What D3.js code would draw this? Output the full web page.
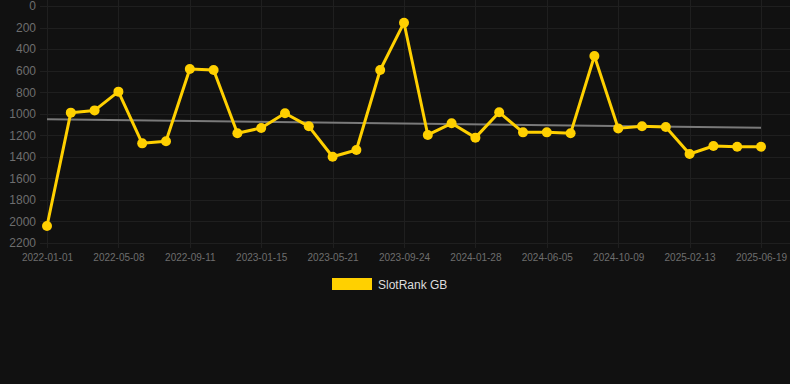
<!DOCTYPE html>
<html lang="en">
<head>
  <meta charset="UTF-8">
  <title>SlotRank GB</title>
  <script src="https://d3js.org/d3.v7.min.js"></script>
  <style>
    html, body {
      margin: 0;
      padding: 0;
      background-color: #111111;
    }

    svg {
      display: block;
      font-family: 'Liberation Sans', Arial, sans-serif;
    }

    .grid line {
      stroke: #1f1f1f;
      stroke-width: 1;
      shape-rendering: crispEdges;
    }

    .grid path {
      stroke-width: 0;
    }

    .axis text {
      fill: #6e6e6e;
    }

    .axis path,
    .axis line {
      stroke: none;
    }
  </style>
</head>
<body>
  <svg width="790" height="384"></svg>

  <script>
    // Data
    const dates = [
      "2022-01-01", "2022-02-12", "2022-03-26", "2022-05-08", "2022-06-19", "2022-07-31",
      "2022-09-11", "2022-10-23", "2022-12-04", "2023-01-15", "2023-02-26", "2023-04-09",
      "2023-05-21", "2023-07-02", "2023-08-13", "2023-09-24", "2023-11-05", "2023-12-17",
      "2024-01-28", "2024-03-10", "2024-04-21", "2024-06-05", "2024-07-17", "2024-08-28",
      "2024-10-09", "2024-11-20", "2025-01-01", "2025-02-13", "2025-03-27", "2025-05-08",
      "2025-06-19"
    ];

    const ranks = [
      2042, 990, 969, 795, 1275, 1256,
      585, 594, 1182, 1132, 996, 1117,
      1399, 1337, 594, 155, 1197, 1089,
      1222, 987, 1173, 1173, 1182, 464,
      1136, 1117, 1123, 1374, 1300, 1306,
      1306
    ];

    // trend line endpoints (first and last date)
    const trendValues = [1052, 1130];

    const yTicks = [0, 200, 400, 600, 800, 1000, 1200, 1400, 1600, 1800, 2000, 2200];
    const seriesName = "SlotRank GB";

    const svg = d3.select("svg");
    const lineColor = "#ffd000";

    const plot = { left: 40, right: 790, top: 6, bottom: 243 };

    const x = d3.scalePoint()
      .domain(dates)
      .range([47, 761]);

    const y = d3.scaleLinear()
      .domain([0, 2200])
      .range([plot.top, plot.bottom]);

    // horizontal grid
    svg.append("g")
      .attr("class", "grid")
      .selectAll("line")
      .data(yTicks)
      .enter()
      .append("line")
      .attr("x1", plot.left)
      .attr("x2", plot.right)
      .attr("y1", d => Math.round(y(d)) + 0.5)
      .attr("y2", d => Math.round(y(d)) + 0.5);

    // vertical grid at labelled dates
    const shownDates = dates.filter((d, i) => i % 3 === 0);
    svg.append("g")
      .attr("class", "grid")
      .selectAll("line")
      .data(shownDates)
      .enter()
      .append("line")
      .attr("x1", d => Math.round(x(d)) + 0.5)
      .attr("x2", d => Math.round(x(d)) + 0.5)
      .attr("y1", 0)
      .attr("y2", plot.bottom + 5);

    // Y axis
    svg.append("g")
      .attr("class", "axis")
      .attr("transform", `translate(${plot.left - 2},0)`)
      .call(d3.axisLeft(y).tickValues(yTicks).tickFormat(d3.format("d")).tickSize(0).tickPadding(2))
      .selectAll("text")
      .style("font-size", "12px");

    // X axis
    svg.append("g")
      .attr("class", "axis")
      .attr("transform", `translate(0,${plot.bottom})`)
      .call(d3.axisBottom(x).tickValues(shownDates).tickSize(0).tickPadding(11))
      .selectAll("text")
      .style("font-size", "10px");

    // trend line
    svg.append("line")
      .attr("x1", x(dates[0]))
      .attr("x2", x(dates[dates.length - 1]))
      .attr("y1", y(trendValues[0]))
      .attr("y2", y(trendValues[1]))
      .attr("stroke", "#7a7a7a")
      .attr("stroke-width", 2);

    // series line
    const line = d3.line()
      .x((d, i) => x(dates[i]))
      .y(d => y(d));

    svg.append("path")
      .datum(ranks)
      .attr("fill", "none")
      .attr("stroke", lineColor)
      .attr("stroke-width", 3)
      .attr("stroke-linejoin", "round")
      .attr("d", line);

    svg.selectAll(".dot")
      .data(ranks)
      .enter()
      .append("circle")
      .attr("class", "dot")
      .attr("cx", (d, i) => x(dates[i]))
      .attr("cy", d => y(d))
      .attr("r", 5)
      .attr("fill", lineColor);

    // legend
    svg.append("rect")
      .attr("x", 332)
      .attr("y", 278)
      .attr("width", 40)
      .attr("height", 12)
      .attr("fill", lineColor);

    svg.append("text")
      .attr("x", 378)
      .attr("y", 288.5)
      .attr("fill", "#ddd")
      .style("font-size", "12px")
      .text(seriesName);
  </script>
</body>
</html>
